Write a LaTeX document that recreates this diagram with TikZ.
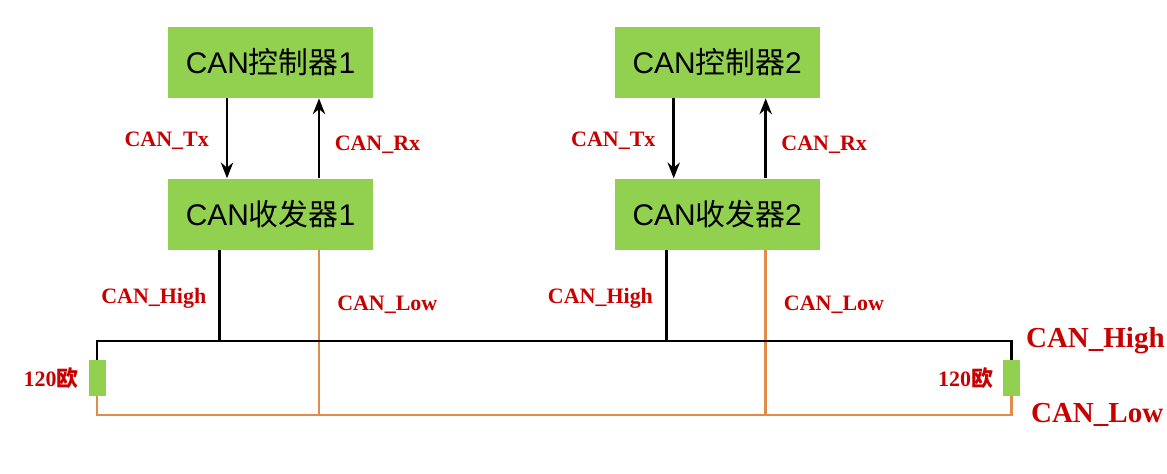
\documentclass[tikz,border=0pt]{standalone}
\usepackage{fontspec}
\setmainfont{Liberation Serif}
\setsansfont{Liberation Sans}
\newfontfamily\cjk{Noto Sans CJK SC}
\usepackage{tikz}
\usetikzlibrary{arrows.meta,positioning,calc}
\definecolor{BoxGreen}{HTML}{92D050}
\definecolor{WireOrange}{HTML}{E38B4B}
\definecolor{LabelRed}{HTML}{C80000}

\begin{document}
\begin{tikzpicture}[
  unit/.style={rectangle,fill=BoxGreen,minimum width=4.1cm,minimum height=1.42cm,inner sep=0pt,
               font=\sffamily\fontsize{17}{19}\selectfont},
  res/.style={rectangle,fill=BoxGreen,minimum width=0.34cm,minimum height=0.72cm,inner sep=0pt},
  sig/.style={line width=1.7pt,-{Stealth[length=9pt,width=7pt]}},
  hiwire/.style={line width=1.7pt,black},
  lowire/.style={line width=1.7pt,WireOrange},
  lbl/.style={text=LabelRed,font=\bfseries\fontsize{12.5}{14}\selectfont,inner sep=1pt},
  buslbl/.style={text=LabelRed,font=\bfseries\fontsize{16.5}{18}\selectfont,inner sep=1pt}
]
\useasboundingbox (0,0) rectangle (23.34,-9.48);

% node 1
\node[unit] (ctrlA) at (5.41,-1.25) {CAN{\cjk 控制器}1};
\node[unit,below=1.6cm of ctrlA] (xcvrA) {CAN{\cjk 收发器}1};
% node 2
\node[unit,right=4.82cm of ctrlA] (ctrlB) {CAN{\cjk 控制器}2};
\node[unit,below=1.6cm of ctrlB] (xcvrB) {CAN{\cjk 收发器}2};

% bus ends
\coordinate (hiL) at (1.94,-6.82);
\coordinate (hiR) at (20.23,-6.82);
\coordinate (loL) at (1.94,-8.30);
\coordinate (loR) at (20.23,-8.30);
\node[res] (resL) at (1.94,-7.56) {};
\node[res] (resR) at (20.23,-7.56) {};

% Tx / Rx
\foreach \u in {A,B}{
  \draw[sig] ([xshift=-0.87cm]ctrl\u.south) -- ([xshift=-0.87cm]xcvr\u.north)
    node[lbl,midway,left=0.3cm,yshift=-0.05cm] {CAN\_Tx};
  \draw[sig] ([xshift=0.97cm]xcvr\u.north) -- ([xshift=0.97cm]ctrl\u.south)
    node[lbl,midway,right=0.25cm,yshift=-0.12cm] {CAN\_Rx};
  \draw[hiwire] ([xshift=-1.02cm]xcvr\u.south) -- ([xshift=-1.02cm]xcvr\u.south |- hiL)
    node[lbl,midway,left=0.2cm,yshift=-0.05cm] {CAN\_High};
  \draw[lowire] ([xshift=0.97cm]xcvr\u.south) -- ([xshift=0.97cm]xcvr\u.south |- loL)
    node[lbl,pos=0.33,right=0.3cm] {CAN\_Low};
}

% bus lines and terminations
\draw[hiwire] (resL.north) -- (hiL) -- (hiR) -- (resR.north);
\draw[lowire] (resL.south) -- (loL) -- (loR) -- (resR.south);
\node[lbl,left=0.15cm of resL] {120{\cjk\bfseries 欧}};
\node[lbl,left=0.15cm of resR] {120{\cjk\bfseries 欧}};
\node[buslbl,right=0.25cm of hiR] {CAN\_High};
\node[buslbl,right=0.35cm of loR] {CAN\_Low};
\end{tikzpicture}
\end{document}
